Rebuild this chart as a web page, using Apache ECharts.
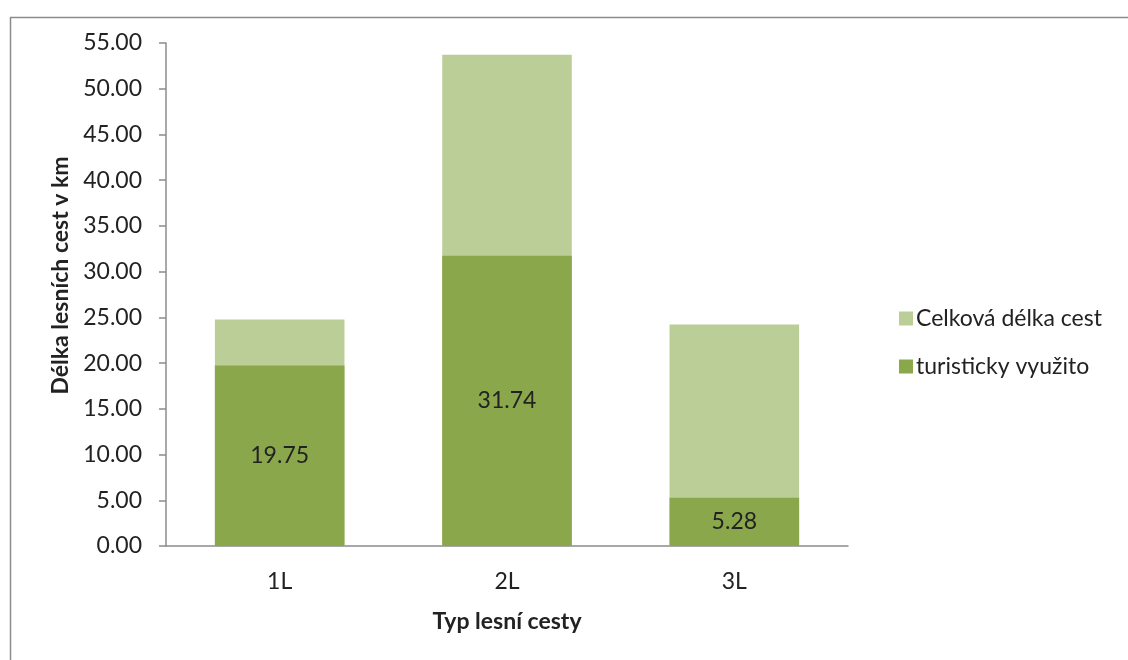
<!DOCTYPE html>
<html>
<head>
<meta charset="utf-8">
<script src="https://cdn.jsdelivr.net/npm/echarts@6/dist/echarts.min.js"></script>
<style>
html,body{margin:0;padding:0;background:#fff;}
#chart{width:1128px;height:660px;}
</style>
</head>
<body>
<div id="chart"></div>
<script>
const categories = ['1L', '2L', '3L'];
const totalLength = [24.77, 53.72, 24.23];
const touristUsed = [19.75, 31.74, 5.28];
const yTicks = { min: 0, max: 55, interval: 5 };
const seriesNames = ['Celková délka cest', 'turisticky využito'];

const FONT = 'Lato, "Open Sans", sans-serif';
const FS = 23;
const chart = echarts.init(document.getElementById('chart'), null, { renderer: 'canvas' });
chart.setOption({
  animation: false,
  backgroundColor: '#fff',
  graphic: [{
    type: 'rect', left: 8, top: 15,
    shape: { width: 1200, height: 700 },
    style: { fill: 'none', stroke: '#8c8c8c', lineWidth: 1.5 },
    silent: true, z: -1
  }],
  grid: { left: 166, top: 43, right: 280, bottom: 114, containLabel: false },
  legend: {
    orient: 'vertical',
    left: 894, top: 302,
    itemWidth: 14, itemHeight: 14, itemGap: 25,
    icon: 'rect',
    textStyle: { fontFamily: FONT, fontSize: FS, color: '#222', padding: [0, 0, 0, -2] },
    data: seriesNames
  },
  xAxis: {
    type: 'category',
    data: categories,
    name: 'Typ lesní cesty',
    nameLocation: 'middle',
    nameGap: 64,
    nameTextStyle: { fontFamily: FONT, fontSize: FS, fontWeight: 'bold', color: '#222' },
    axisLine: { lineStyle: { color: '#8c8c8c', width: 1.5 } },
    axisTick: { show: false },
    axisLabel: { fontFamily: FONT, fontSize: FS, color: '#222', margin: 24 }
  },
  yAxis: {
    type: 'value',
    min: yTicks.min, max: yTicks.max, interval: yTicks.interval,
    name: 'Délka lesních cest v km',
    nameLocation: 'middle',
    nameGap: 92,
    nameTextStyle: { fontFamily: FONT, fontSize: FS, fontWeight: 'bold', color: '#222', padding: [0, 0, 0, 38] },
    axisLine: { show: true, lineStyle: { color: '#8c8c8c', width: 1.5 } },
    axisTick: { show: true, length: 7, lineStyle: { color: '#8c8c8c', width: 1.5 } },
    splitLine: { show: false },
    axisLabel: {
      fontFamily: FONT, fontSize: FS, color: '#222', margin: 24,
      formatter: v => v.toFixed(2)
    }
  },
  series: [
    {
      name: seriesNames[0],
      type: 'bar',
      data: totalLength,
      barWidth: '57%',
      barGap: '-100%',
      itemStyle: { color: '#bbce98' },
      z: 1
    },
    {
      name: seriesNames[1],
      type: 'bar',
      data: touristUsed,
      barWidth: '57%',
      itemStyle: { color: '#8ba74c' },
      label: {
        show: true, position: 'inside',
        fontFamily: FONT, fontSize: FS, color: '#222',
        formatter: p => p.value.toFixed(2)
      },
      z: 2
    }
  ]
});
</script>
</body>
</html>
